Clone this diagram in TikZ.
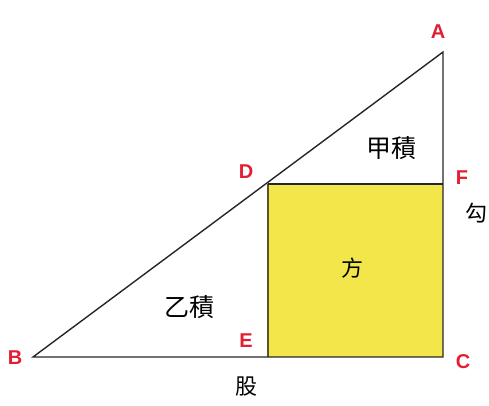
\documentclass[tikz,border=0pt]{standalone}
\usepackage{fontspec}
\setsansfont{Liberation Sans}
\newfontfamily\cjk{Noto Sans CJK SC}
\definecolor{lblred}{RGB}{225,30,50}
\definecolor{sqyellow}{RGB}{242,230,75}
\definecolor{sqedge}{RGB}{90,85,40}
\begin{document}
\begin{tikzpicture}[x=1pt,y=-1pt,
  pt/.style={inner sep=0pt,font=\sffamily\bfseries\fontsize{20}{20}\selectfont,text=lblred},
  cj/.style={inner sep=0pt,font=\cjk\fontsize{25}{25}\selectfont},
  edge/.style={line width=1.4pt,black!85}]
\useasboundingbox (0,0) rectangle (489,405);
\coordinate (A) at (443,52);
\coordinate (B) at (33,357);
\coordinate (C) at (443,357);
\coordinate (D) at (268,184);
\coordinate (E) at (268,357);
\coordinate (F) at (443,184);
\fill[sqyellow] (D) rectangle (C);
\draw[edge,sqedge] (D) -- (E);
\draw[edge] (A) -- (B) -- (C) -- cycle;
\draw[edge] (D) -- (F);
\node[pt] (lA) at (438,32) {A};
\node[pt] (lB) at (15,358) {B};
\node[pt] (lC) at (463,362) {C};
\node[pt] (lD) at (246,172) {D};
\node[pt] (lE) at (246,341) {E};
\node[pt] (lF) at (462,178) {F};
\node[cj] (jia) at (391,148) {甲積};
\node[cj] (yi) at (189,307) {乙積};
\node[cj,font=\cjk\fontsize{22}{22}\selectfont] (fang) at (352,268) {方};
\node[cj,font=\cjk\fontsize{22}{22}\selectfont] (gou) at (476,213) {勾};
\node[cj,font=\cjk\fontsize{22}{22}\selectfont] (gu) at (246,387) {股};
\end{tikzpicture}
\end{document}
